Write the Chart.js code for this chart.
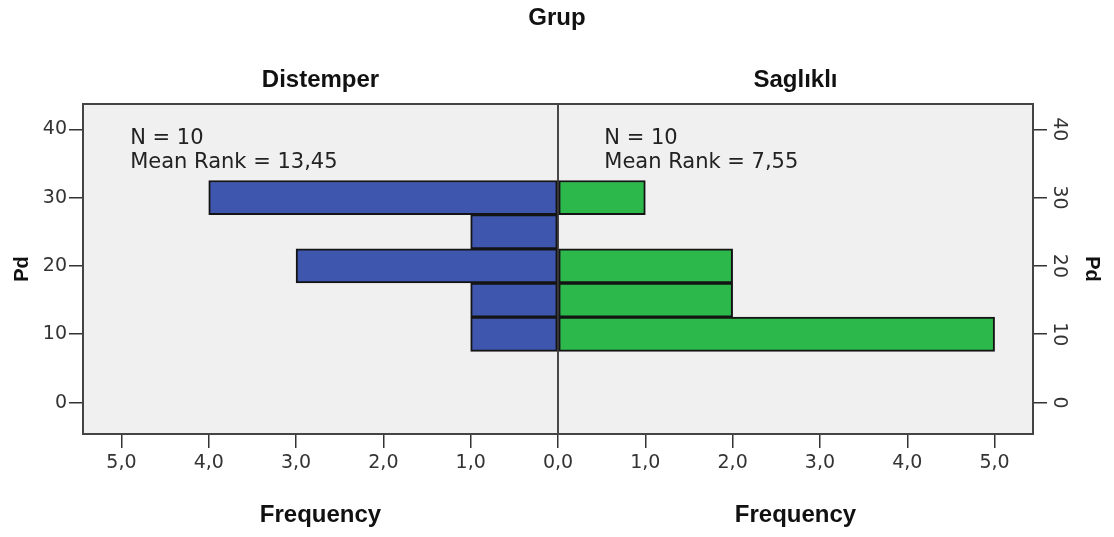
<!DOCTYPE html>
<html><head><meta charset="utf-8">
<script src="https://cdn.jsdelivr.net/npm/chart.js@4/dist/chart.umd.min.js"></script>
<style>html,body{margin:0;padding:0;background:#fff;} canvas{display:block;}</style>
</head><body>
<canvas id="c" width="1114" height="537"></canvas>
<script>
// ---- data ----
const binCenters = [10, 15, 20, 25, 30];          // Pd bin centres (bin width 5)
const distemperCounts = [1, 1, 3, 1, 4];
const saglikliCounts = [5, 2, 2, 0, 1];
const groupNames = ['Distemper', 'Saglıklı'];
const groupN = [10, 10];
const groupMeanRank = ['13,45', '7,55'];
const frequencyLabels = ['Frequency', 'Frequency'];
const mainTitle = 'Grup';
const axisTitle = 'Pd';

const BLUE = '#3f56ae';
const GREEN = '#2db84b';
const EDGE = '#141414';

const distemperData = binCenters.map((b, i) => ({ y: b, x: -distemperCounts[i] })).filter(p => p.x !== 0);
const saglikliData = binCenters.map((b, i) => ({ y: b, x: saglikliCounts[i] })).filter(p => p.x !== 0);

const fmtFreq = v => Math.abs(v).toFixed(1).replace('.', ',');

const bgPlugin = {
  id: 'bg',
  beforeDraw(chart) {
    const { ctx, chartArea: a } = chart;
    ctx.save();
    ctx.fillStyle = '#f0f0f0';
    ctx.fillRect(a.left, a.top, a.right - a.left, a.bottom - a.top);
    ctx.restore();
  },
  afterDatasetsDraw(chart) {
    const { ctx, chartArea: a, scales } = chart;
    ctx.save();
    const x0 = scales.x.getPixelForValue(0);
    ctx.strokeStyle = '#111';
    ctx.lineWidth = 1.5;
    ctx.beginPath();
    ctx.moveTo(x0, a.top);
    ctx.lineTo(x0, a.bottom);
    ctx.stroke();
    ctx.strokeStyle = '#444';
    ctx.lineWidth = 2;
    ctx.strokeRect(a.left, a.top, a.right - a.left, a.bottom - a.top);
    ctx.fillStyle = '#222';
    ctx.font = '21px "DejaVu Sans"';
    ctx.textBaseline = 'alphabetic';
    ctx.textAlign = 'left';
    const xs = [-4.90, 0.53];
    const y1 = scales.y.getPixelForValue(37.8);
    const y2 = scales.y.getPixelForValue(34.4);
    for (let g = 0; g < 2; g++) {
      const px = scales.x.getPixelForValue(xs[g]);
      ctx.fillText('N = ' + groupN[g], px, y1);
      ctx.fillText('Mean Rank = ' + groupMeanRank[g], px, y2);
    }
    ctx.restore();
  }
};

const tickGrid = () => ({ display: true, offset: false, drawOnChartArea: false, drawTicks: true, tickLength: 14, color: '#333', lineWidth: 1.5 });
const boldFont = size => ({ family: '"Liberation Sans", Arial, sans-serif', size, weight: 'bold', lineHeight: 1.2 });
const tickFont = { family: '"DejaVu Sans"', size: 19, lineHeight: 1.2 };

new Chart(document.getElementById('c'), {
  type: 'bar',
  data: {
    datasets: [
      { label: groupNames[0], data: distemperData, xAxisID: 'x', yAxisID: 'y',
        backgroundColor: BLUE, borderColor: EDGE, borderWidth: 2, borderSkipped: false },
      { label: groupNames[1], data: saglikliData, xAxisID: 'x', yAxisID: 'y',
        backgroundColor: GREEN, borderColor: EDGE, borderWidth: 2, borderSkipped: false }
    ]
  },
  options: {
    responsive: false,
    animation: false,
    indexAxis: 'y',
    layout: { padding: 0 },
    datasets: { bar: { barPercentage: 1, categoryPercentage: 1, grouped: false } },
    plugins: {
      legend: { display: false },
      tooltip: { enabled: false },
      title: { display: true, text: mainTitle, color: '#111', font: boldFont(24),
        padding: { top: 4, bottom: 0 } }
    },
    scales: {
      x: {
        type: 'linear', position: 'bottom', weight: 1, offset: false,
        min: -5.44, max: 5.44,
        grid: tickGrid(),
        border: { display: false },
        ticks: { stepSize: 1, includeBounds: false, callback: fmtFreq, padding: 4, color: '#333',
          maxRotation: 0, minRotation: 0, autoSkip: false, font: tickFont },
        afterFit: s => { s.height = 40; }
      },
      xFreq: {
        type: 'category', position: 'bottom', weight: 2, labels: frequencyLabels, offset: true,
        grid: { display: false, drawTicks: false }, border: { display: false },
        ticks: { padding: 27, color: '#111', maxRotation: 0, autoSkip: false, font: boldFont(24) },
        afterFit: s => { s.height = 63; }
      },
      xTop: {
        type: 'category', position: 'top', weight: 1, labels: groupNames, offset: true,
        grid: { display: false, drawTicks: false }, border: { display: false },
        ticks: { padding: 9, color: '#111', maxRotation: 0, autoSkip: false, font: boldFont(24) },
        afterFit: s => { s.height = 104 - 32.8; }
      },
      y: {
        type: 'linear', position: 'left', offset: false,
        min: -4.6, max: 43.7,
        grid: tickGrid(),
        border: { display: false },
        ticks: { stepSize: 10, includeBounds: false, padding: 2, color: '#333', font: tickFont },
        title: { display: true, text: axisTitle, color: '#111', padding: { top: 10, bottom: 0 }, font: boldFont(20) },
        afterFit: s => { s.width = 83; }
      },
      yRight: {
        type: 'linear', position: 'right', offset: false,
        min: -4.6, max: 43.7,
        grid: tickGrid(),
        border: { display: false },
        ticks: { stepSize: 10, includeBounds: false, padding: 0, color: '#333', crossAlign: 'center',
          minRotation: -90, maxRotation: -90, font: tickFont },
        title: { display: true, text: axisTitle, color: '#111', padding: { top: 10, bottom: 0 }, font: boldFont(20) },
        afterFit: s => { s.width = 81; }
      }
    }
  },
  plugins: [bgPlugin]
});
</script>
</body></html>
